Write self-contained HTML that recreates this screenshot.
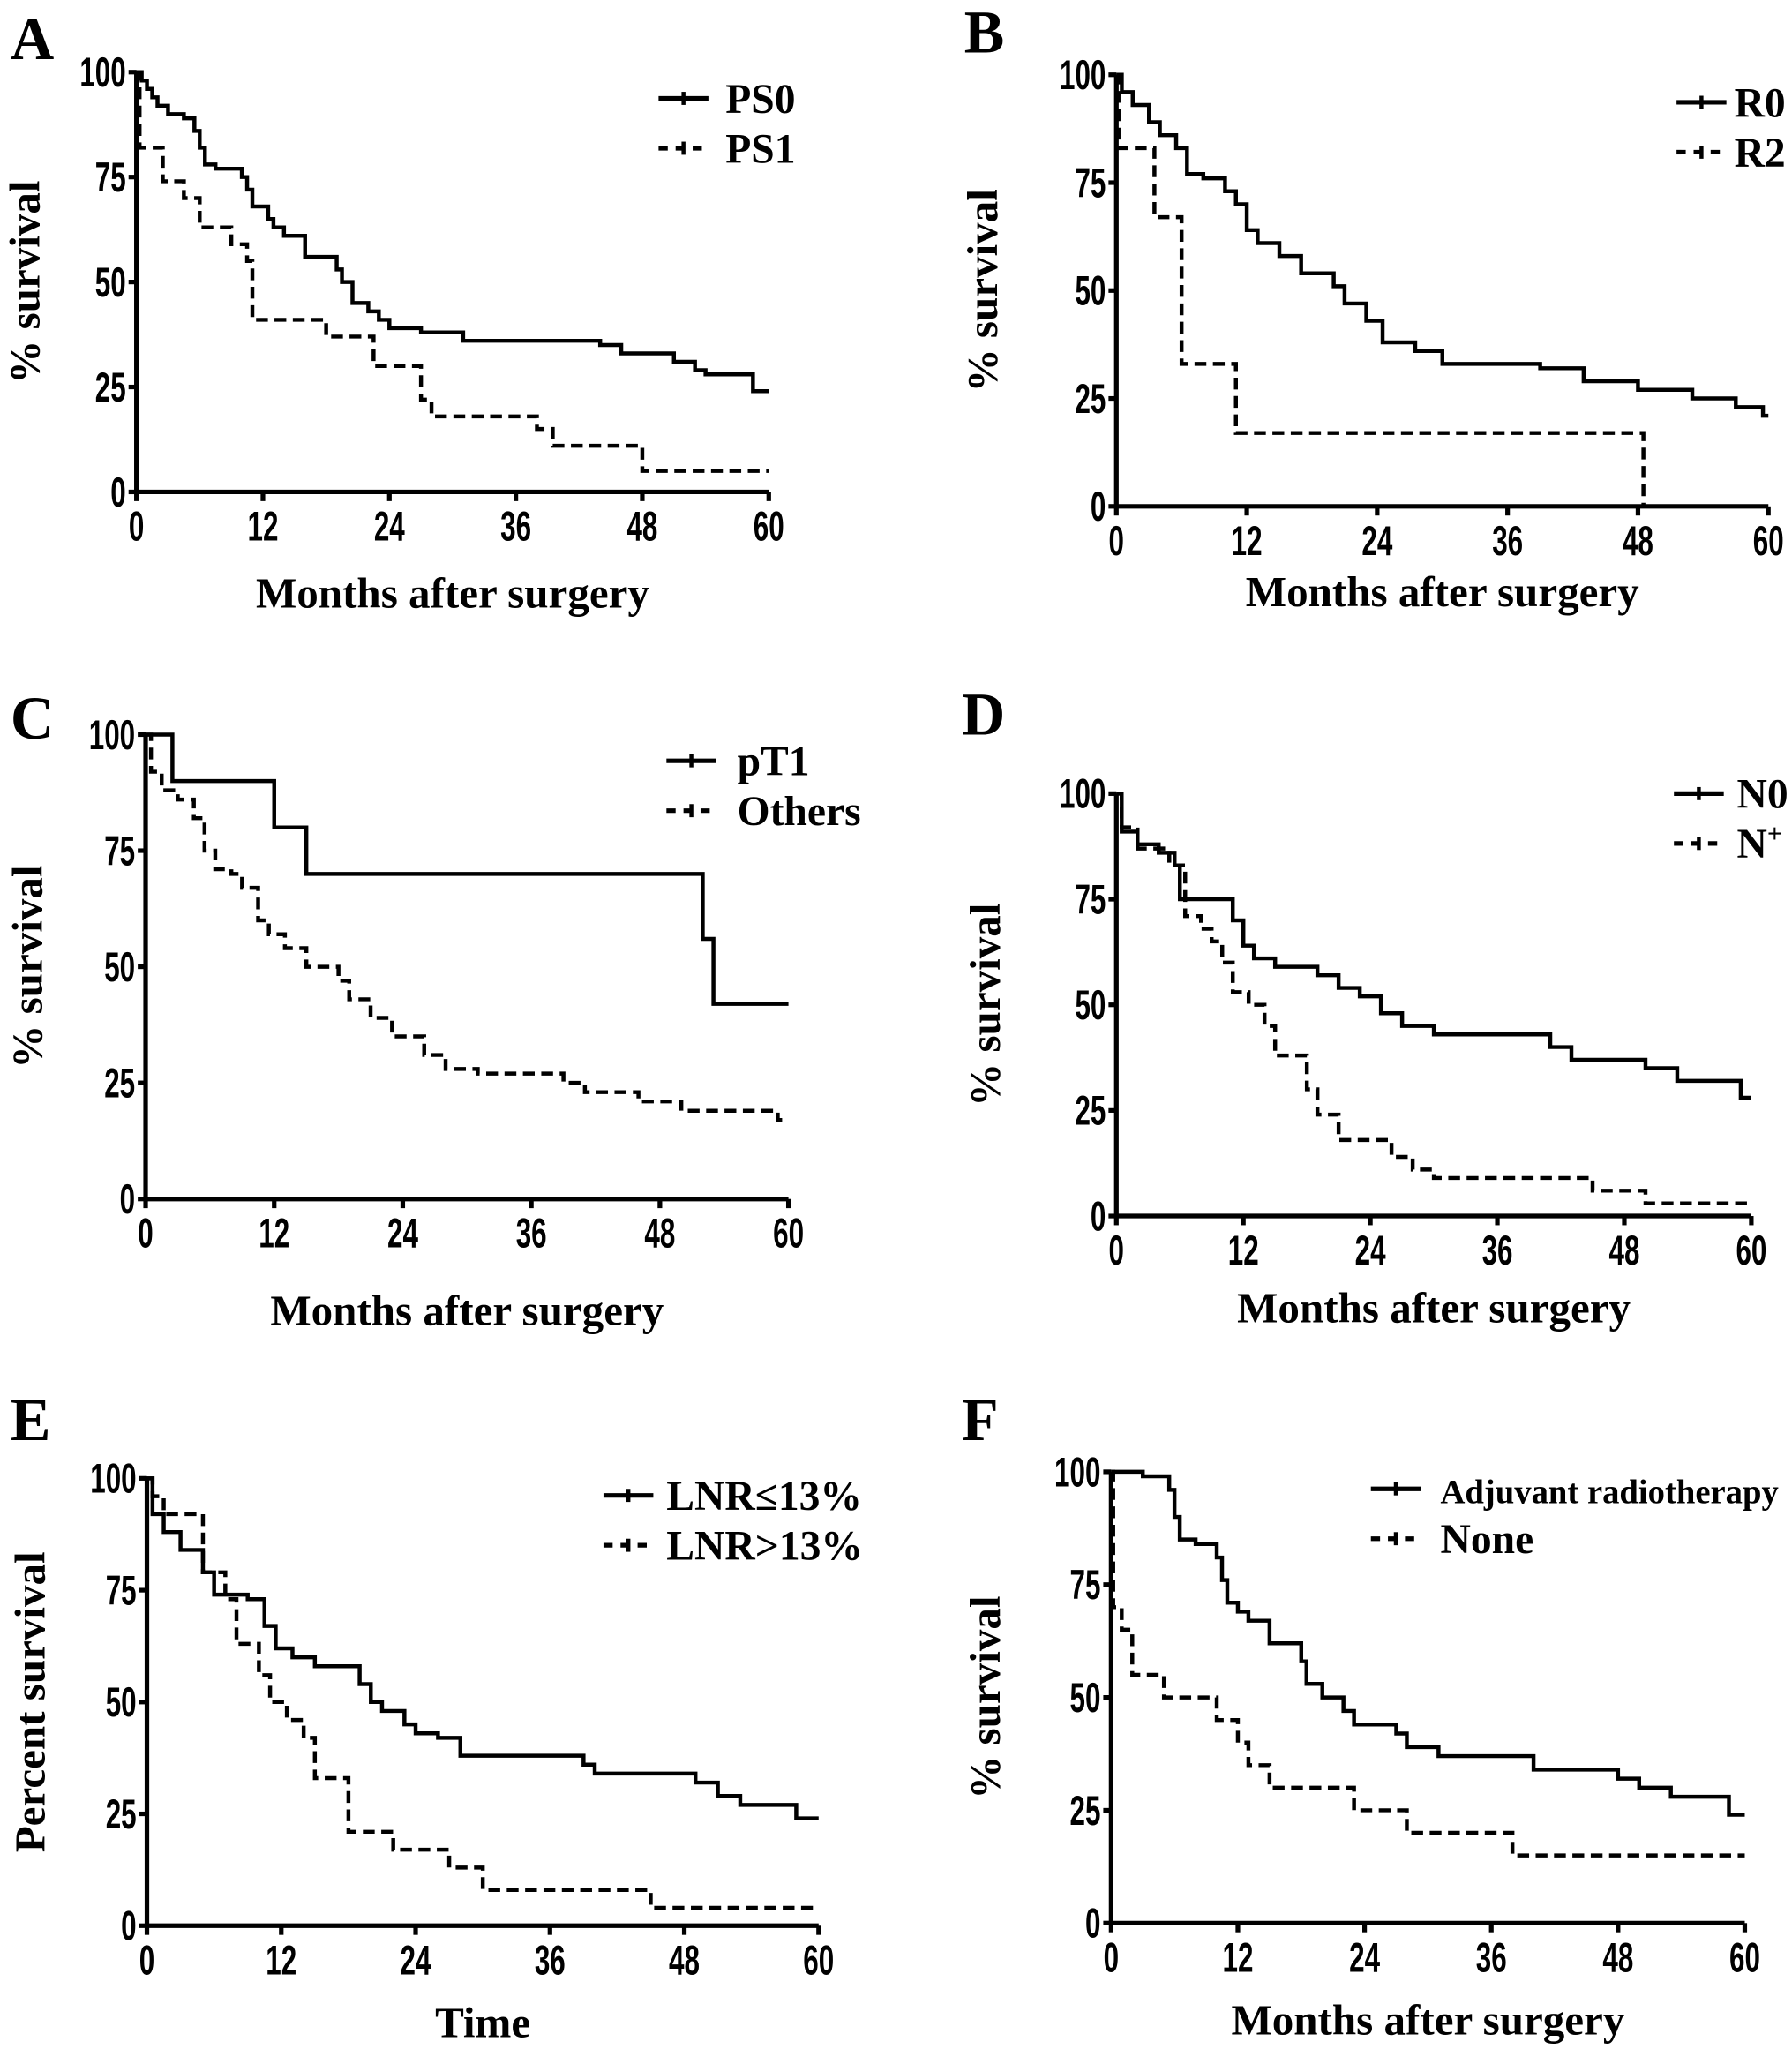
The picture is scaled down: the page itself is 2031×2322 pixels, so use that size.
<!DOCTYPE html>
<html><head><meta charset="utf-8"><style>
html,body{margin:0;padding:0;background:#fff;}
svg{display:block;}
.tick{font-family:"Liberation Sans",sans-serif;font-weight:bold;font-size:32px;}
.lab{font-family:"Liberation Serif",serif;font-weight:bold;}
</style></head><body>
<svg id="fig" width="2031" height="2322" viewBox="0 0 1366 1562" preserveAspectRatio="none" xmlns="http://www.w3.org/2000/svg"></svg>
<script>
// ---- data (time in months, % survival) ----
const xTicks=[0,12,24,36,48,60];
const yTicks=[0,25,50,75,100];
const aPS0T=[0,0.5,1,1.5,2,3,4.5,5.5,6,6.5,7.5,10,10.5,11,12.5,13,14,16,19,19.5,20.5,22,23,24,27,31,44,46,51,53,54,58.5,60];
const aPS0S=[100,98,96,94,92,90,89,86,82,78,77,75,72,68,65,63,61,56,53,50,45,43,41,39,38,36,35,33,31,29,28,24,24];
const aPS1T=[0,0.3,2.5,4.5,6,9,10.5,11,18,22.5,27,28,38,39.5,48,60];
const aPS1S=[100,82,74,70,63,59,55,41,37,30,22,18,15,11,5,5];
const bR0T=[0,0.5,1.5,3,4,5.5,6.5,8,10,11,12,13,15,17,20,21,23,24.5,27.5,30,39,43,48,53,57,59.5,60];
const bR0S=[100,96,93,89,86,83,77,76,73,70,64,61,58,54,51,47,43,38,36,33,32,29,27,25,23,21,21];
const bR2T=[0,0.2,3.5,6,11,48.5];
const bR2S=[100,83,67,33,17,0];
const cT1T=[0,2.5,12,15,52,53,60];
const cT1S=[100,90,80,70,56,42,42];
const cOthT=[0,0.5,1.5,3,4.5,5.5,6.5,8,9,10.5,11.5,13,15,18,19,21,23,26,28,31,39,41,46,50,59,60];
const cOthS=[100,92,88,86,82,75,71,70,67,60,57,54,50,47,43,39,35,31,28,27,25,23,21,19,17,17];
const dN0T=[0,0.5,2,4,5.5,6,11,12,13,15,19,21,23,25,27,30,41,43,50,53,59,60];
const dN0S=[100,91,88,86,83,75,70,64,61,59,57,54,52,48,45,43,40,37,35,32,28,28];
const dNpT=[0,0.5,2,5,6.5,8,9,10,11,12.5,14,15,18,19,21,26,28,30,45,50,60];
const dNpS=[100,92,87,83,71,68,65,60,53,50,45,38,30,24,18,14,11,9,6,3,3];
const eLoT=[0,0.5,1.5,3,5,6,9,10.5,11.5,13,15,19,20,21,23,24,26,28,39,40,49,51,53,58,60];
const eLoS=[100,92,88,84,79,74,73,67,62,60,58,54,50,48,45,43,42,38,36,34,32,29,27,24,24];
const eHiT=[0,0.5,1.5,5,7,8,10,11,12.5,14,15,18,22,27,30,45,60];
const eHiS=[100,96,92,79,73,63,56,50,46,42,33,21,17,13,8,4,4];
const fAdjT=[0,3,5.5,6,6.5,8,10,10.5,11,12,13,15,18,18.5,20,22,23,27,28,31,40,48,50,53,58.5,60];
const fAdjS=[100,99,96,90,85,84,81,76,71,69,67,62,58,53,50,47,44,42,39,37,34,32,30,28,24,24];
const fNoT=[0,0.2,1,2,5,10,12,13,15,23,28,38,60];
const fNoS=[100,70,65,55,50,45,40,35,30,25,20,15,15];

// ---- layout ----
const panels=[
 {id:'a',letter:'A',lx:8,ly:45,x0:104,x1:586,y0:375,y1:55,ylab:'% survival',ylx:30,xlab:'Months after surgery',xly:463,
  series:[[aPS0T,aPS0S,'PS0',0],[aPS1T,aPS1S,'PS1',1]],leg:[502,75,553,32]},
 {id:'b',letter:'B',lx:735,ly:40,x0:851,x1:1348,y0:386,y1:57,ylab:'% survival',ylx:760,xlab:'Months after surgery',xly:462,
  series:[[bR0T,bR0S,'R0',0],[bR2T,bR2S,'R2',1]],leg:[1278,78,1322,32]},
 {id:'c',letter:'C',lx:8,ly:563,x0:111,x1:601,y0:914,y1:560,ylab:'% survival',ylx:32,xlab:'Months after surgery',xly:1010,
  series:[[cT1T,cT1S,'pT1',0],[cOthT,cOthS,'Others',1]],leg:[508,580,562,32]},
 {id:'d',letter:'D',lx:733,ly:560,x0:851,x1:1335,y0:927,y1:605,ylab:'% survival',ylx:762,xlab:'Months after surgery',xly:1008,
  series:[[dN0T,dN0S,'N0',0],[dNpT,dNpS,'N',1]],leg:[1276,605,1324,32]},
 {id:'e',letter:'E',lx:8,ly:1098,x0:112,x1:624,y0:1468,y1:1127,ylab:'Percent survival',ylx:34,xlab:'Time',xly:1553,
  series:[[eLoT,eLoS,'LNR≤13%',0],[eHiT,eHiS,'LNR>13%',1]],leg:[460,1140,508,32]},
 {id:'f',letter:'F',lx:733,ly:1098,x0:847,x1:1330,y0:1466,y1:1122,ylab:'% survival',ylx:762,xlab:'Months after surgery',xly:1551,
  series:[[fAdjT,fAdjS,'Adjuvant radiotherapy',0],[fNoT,fNoS,'None',1]],leg:[1045,1135,1098,32]}
];
const NS='http://www.w3.org/2000/svg';
const svg=document.getElementById('fig');
function mk(tag,attrs,parent){const e=document.createElementNS(NS,tag);for(const k in attrs)e.setAttribute(k,attrs[k]);(parent||svg).appendChild(e);return e;}

panels.forEach(p=>{
  const g=mk('g',{});
  
  
  const X=t=>p.x0+(p.x1-p.x0)*t/60;
  const Y=s=>p.y0+(p.y1-p.y0)*s/100;
  const L=mk('text',{x:p.lx,y:p.ly,class:'lab','font-size':46},g);
  L.textContent=p.letter;
  
  
  const ax=mk('path',{d:`M${p.x0},${Y(100)}V${p.y0}H${p.x1}`,stroke:'#000','stroke-width':3.5,fill:'none'},g);
  
  
  const sx=0.66;
  yTicks.forEach(v=>{
    mk('line',{x1:p.x0-6,x2:p.x0,y1:Y(v),y2:Y(v),stroke:'#000','stroke-width':3.5},g);
    const t=mk('text',{x:p.x0-8,y:Y(v)+11,class:'tick','text-anchor':'end'},g);
    t.setAttribute('transform',`translate(${(p.x0-8)*(1-sx)},0) scale(${sx},1)`);
    t.textContent=v;
    
    
  });
  xTicks.forEach(v=>{
    mk('line',{x1:X(v),x2:X(v),y1:p.y0,y2:p.y0+7,stroke:'#000','stroke-width':3.5},g);
    const t=mk('text',{x:X(v),y:p.y0+37,class:'tick','text-anchor':'middle'},g);
    t.setAttribute('transform',`translate(${X(v)*(1-sx)},0) scale(${sx},1)`);
    t.textContent=v;
    
    
  });
  const xl=mk('text',{x:(p.x0+p.x1)/2,y:p.xly,class:'lab','font-size':33,'text-anchor':'middle'},g);
  xl.textContent=p.xlab;
  
  
  const yc=(p.y0+Y(100))/2;
  const yl=mk('text',{x:p.ylx,y:yc,class:'lab','font-size':33,'text-anchor':'middle',transform:`rotate(-90 ${p.ylx} ${yc})`},g);
  yl.textContent=p.ylab;
  
  
  p.series.forEach((s,i)=>{
    const T=s[0],S=s[1];
    let d=`M${X(T[0])},${Y(S[0])}`;
    for(let k=1;k<T.length;k++){d+=`H${X(T[k])}V${Y(S[k])}`;}
    const pth=mk('path',{d:d,stroke:'#000','stroke-width':3,fill:'none'},g);
    if(s[3])pth.setAttribute('stroke-dasharray','9 5');
    
    
    const [lx,ly,tx,fs]=p.leg;
    const yy=ly+i*38;
    const ll=mk('line',{x1:lx,x2:lx+38,y1:yy,y2:yy,stroke:'#000','stroke-width':3.5},g);
    if(s[3])ll.setAttribute('stroke-dasharray','7 6');
    mk('line',{x1:lx+19,x2:lx+19,y1:yy-5,y2:yy+5,stroke:'#000','stroke-width':3},g);
    const lt=mk('text',{x:tx,y:yy+11,class:'lab','font-size':(p.id==='f'&&i===0)?26:fs},g);
    lt.textContent=s[2];
    if(s[2]==='N'){const sup=mk('tspan',{dy:-12,'font-size':20},lt);sup.textContent='+';}
    
    
  });
});
</script>
</body></html>
